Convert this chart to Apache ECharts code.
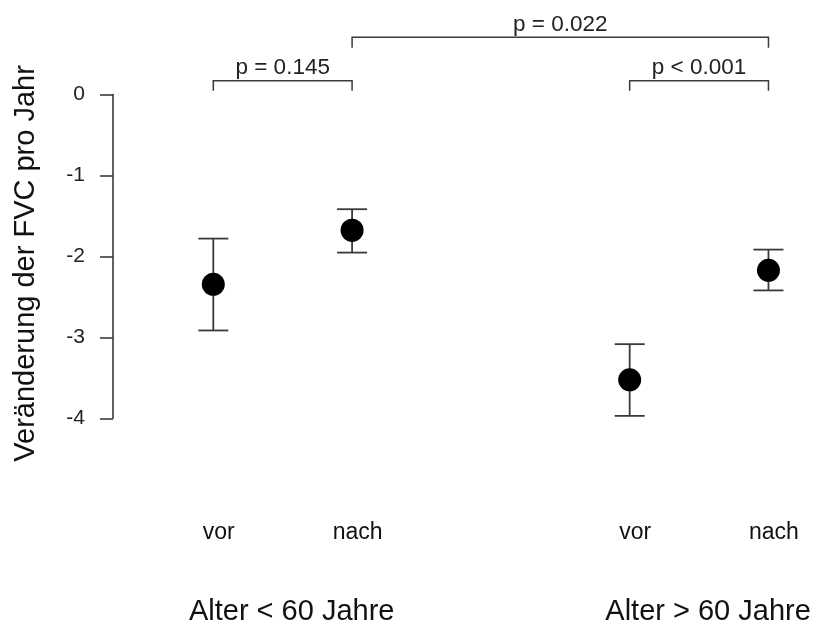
<!DOCTYPE html>
<html>
<head>
<meta charset="utf-8">
<script src="https://cdn.jsdelivr.net/npm/echarts@6/dist/echarts.min.js"></script>
<style>
html,body{margin:0;padding:0;background:#fff;}
#chart{width:814px;height:624px;}
</style>
</head>
<body>
<div id="chart"></div>
<script>
// ---- data ----
var xPositions = [1, 2, 4, 5];
var conditionLabels = ['vor', 'nach', 'vor', 'nach'];
var groupLabels = ['Alter < 60 Jahre', 'Alter > 60 Jahre'];
var groupMembers = [[0, 1], [2, 3]];
var means = [-2.345, -1.677, -3.525, -2.172];
var upper = [-1.78, -1.417, -3.084, -1.916];
var lower = [-2.915, -1.953, -3.97, -2.42];
var yTicks = [0, -1, -2, -3, -4];
var yTitle = 'Veränderung der FVC pro Jahr';
var bracketPairs = [[0, 1], [1, 3], [2, 3]];
var bracketLabels = ['p = 0.145', 'p = 0.022', 'p < 0.001'];
var bracketTiers = [0, 1, 0];

// ---- chart ----
var FONT = '"Liberation Sans", Arial, sans-serif';
var LINE = '#3a3a3a';
var chart = echarts.init(document.getElementById('chart'), null, {renderer: 'canvas'});

var pointData = xPositions.map(function (x, i) { return [x, means[i]]; });
var errData = xPositions.map(function (x, i) { return [x, lower[i], upper[i]]; });
var bracketData = bracketPairs.map(function (p, i) {
  return [xPositions[p[0]], xPositions[p[1]], bracketTiers[i], i];
});

var option = {
  animation: false,
  backgroundColor: '#ffffff',
  grid: {left: 143.9, width: 666.2, top: 94.5, height: 323.8},
  xAxis: {
    type: 'value', min: 0.5, max: 5.3,
    show: false
  },
  yAxis: {
    type: 'value', min: -4, max: 0, interval: 1,
    offset: 30.9,
    axisLine: {show: true, lineStyle: {color: LINE, width: 1.6}},
    axisTick: {show: true, length: 13, lineStyle: {color: LINE, width: 1.6}},
    splitLine: {show: false},
    axisLabel: {
      margin: 28, fontSize: 21, color: '#222', fontFamily: FONT,
      formatter: function (v) { return yTicks.indexOf(v) >= 0 ? String(v) : ''; }
    }
  },
  series: [
    {
      type: 'custom',
      clip: false,
      data: errData,
      renderItem: function (params, api) {
        var x = api.value(0);
        var lo = api.coord([x, api.value(1)]);
        var hi = api.coord([x, api.value(2)]);
        var hw = 15;
        var st = {stroke: LINE, lineWidth: 1.8, fill: null};
        return {
          type: 'group',
          children: [
            {type: 'line', shape: {x1: lo[0], y1: lo[1], x2: hi[0], y2: hi[1]}, style: st},
            {type: 'line', shape: {x1: hi[0] - hw, y1: hi[1], x2: hi[0] + hw, y2: hi[1]}, style: st},
            {type: 'line', shape: {x1: lo[0] - hw, y1: lo[1], x2: lo[0] + hw, y2: lo[1]}, style: st}
          ]
        };
      },
      z: 1
    },
    {
      type: 'scatter',
      data: pointData,
      symbol: 'circle',
      symbolSize: 23,
      itemStyle: {color: '#000', opacity: 1},
      z: 2
    },
    {
      type: 'custom',
      clip: false,
      data: bracketData,
      renderItem: function (params, api) {
        var a = api.coord([api.value(0), 0]);
        var b = api.coord([api.value(1), 0]);
        var tier = api.value(2);
        var idx = api.value(3);
        var yTop = a[1] - (tier === 0 ? 13.8 : 57.2);
        var drop = tier === 0 ? 10 : 10.4;
        var st = {stroke: LINE, lineWidth: 1.5, fill: null};
        return {
          type: 'group',
          children: [
            {type: 'polyline', shape: {points: [[a[0], yTop + drop], [a[0], yTop], [b[0], yTop], [b[0], yTop + drop]]}, style: st},
            {type: 'text', x: (a[0] + b[0]) / 2, y: yTop - 13,
              style: {text: bracketLabels[idx], fontSize: 22.5, fontFamily: FONT, fill: '#222', align: 'center', verticalAlign: 'middle'}}
          ]
        };
      },
      z: 3
    }
  ]
};
chart.setOption(option);

function addTexts() {
  var g = [];
  xPositions.forEach(function (x, i) {
    var p = chart.convertToPixel({gridIndex: 0}, [x, 0]);
    g.push({type: 'text', x: p[0] + 5.5, y: 533,
      style: {text: conditionLabels[i], fontSize: 23, fontFamily: FONT, fill: '#111', align: 'center', verticalAlign: 'middle'}});
  });
  groupMembers.forEach(function (m, gi) {
    var p1 = chart.convertToPixel({gridIndex: 0}, [xPositions[m[0]], 0]);
    var p2 = chart.convertToPixel({gridIndex: 0}, [xPositions[m[1]], 0]);
    g.push({type: 'text', x: (p1[0] + p2[0]) / 2 + 9, y: 612,
      style: {text: groupLabels[gi], fontSize: 29, fontFamily: FONT, fill: '#111', align: 'center', verticalAlign: 'middle'}});
  });
  g.push({type: 'text', x: 26, y: 263.4, rotation: Math.PI / 2,
    style: {text: yTitle, fontSize: 29, fontFamily: FONT, fill: '#111', align: 'center', verticalAlign: 'middle'}});
  chart.setOption({graphic: g});
}
addTexts();
</script>
</body>
</html>
